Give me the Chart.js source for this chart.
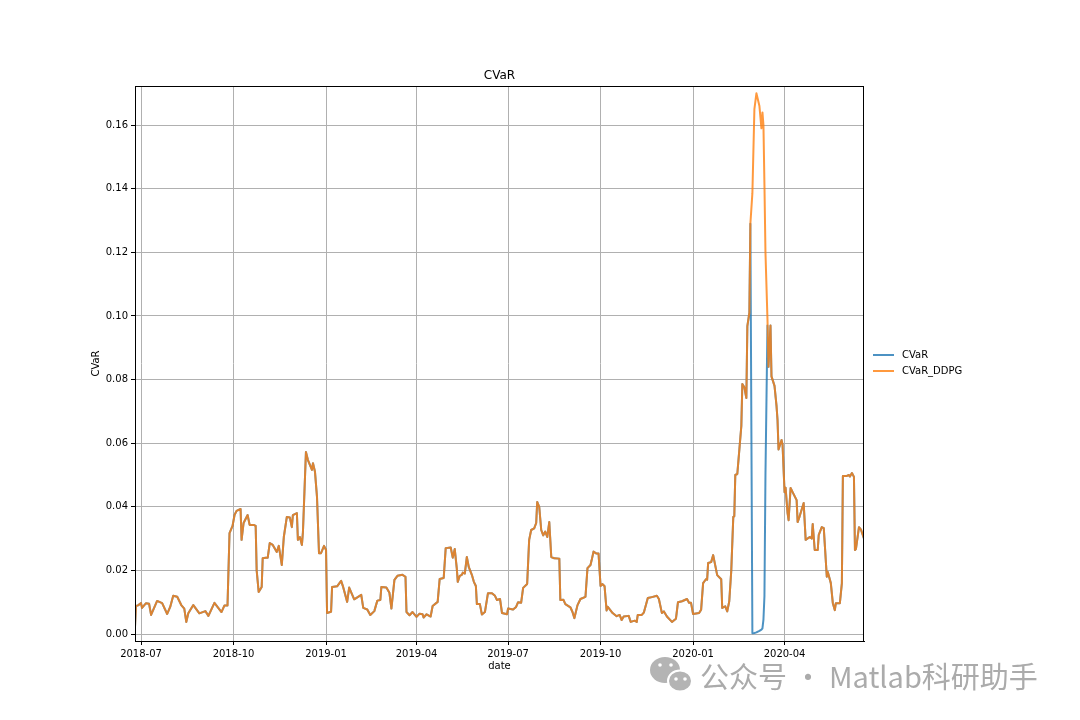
<!DOCTYPE html>
<html>
<head>
<meta charset="utf-8">
<script src="https://cdn.jsdelivr.net/npm/chart.js@4.4.1/dist/chart.umd.min.js"></script>
<style>
  html, body { margin: 0; background: #fff; }
  #wrap { width: 1080px; height: 720px; }
</style>
</head>
<body>
<div id="wrap"><canvas id="chart" width="1080" height="720"></canvas></div>
<script>
// values
const dates = [
  '2018-06-25','2018-06-26','2018-06-28','2018-07-01','2018-07-02','2018-07-06','2018-07-09','2018-07-11','2018-07-17','2018-07-22',
  '2018-07-27','2018-07-30','2018-08-02','2018-08-06','2018-08-10','2018-08-13','2018-08-15','2018-08-17','2018-08-22','2018-08-28',
  '2018-09-03','2018-09-06','2018-09-12','2018-09-19','2018-09-22','2018-09-25','2018-09-27','2018-09-30','2018-10-02','2018-10-04',
  '2018-10-08','2018-10-09','2018-10-11','2018-10-15','2018-10-17','2018-10-21','2018-10-23','2018-10-24','2018-10-26','2018-10-29',
  '2018-10-30','2018-11-02','2018-11-04','2018-11-06','2018-11-09','2018-11-13','2018-11-15','2018-11-18','2018-11-20','2018-11-23',
  '2018-11-26','2018-11-28','2018-11-29','2018-12-03','2018-12-04','2018-12-06','2018-12-08','2018-12-09','2018-12-12','2018-12-14',
  '2018-12-18','2018-12-19','2018-12-21','2018-12-23','2018-12-25','2018-12-27','2018-12-30','2019-01-01','2019-01-02','2019-01-06',
  '2019-01-07','2019-01-12','2019-01-16','2019-01-18','2019-01-22','2019-01-24','2019-01-29','2019-02-05','2019-02-07','2019-02-11',
  '2019-02-14','2019-02-18','2019-02-21','2019-02-24','2019-02-25','2019-03-02','2019-03-05','2019-03-07','2019-03-10','2019-03-13',
  '2019-03-18','2019-03-21','2019-03-22','2019-03-25','2019-03-28','2019-04-01','2019-04-04','2019-04-07','2019-04-08','2019-04-11',
  '2019-04-15','2019-04-17','2019-04-22','2019-04-24','2019-04-28','2019-04-30','2019-05-05','2019-05-07','2019-05-09','2019-05-11',
  '2019-05-12','2019-05-14','2019-05-16','2019-05-17','2019-05-19','2019-05-21','2019-05-23','2019-05-26','2019-05-28','2019-05-30',
  '2019-05-31','2019-06-03','2019-06-05','2019-06-08','2019-06-11','2019-06-15','2019-06-18','2019-06-20','2019-06-23','2019-06-25',
  '2019-06-30','2019-07-01','2019-07-06','2019-07-09','2019-07-11','2019-07-14','2019-07-16','2019-07-20','2019-07-22','2019-07-24',
  '2019-07-27','2019-07-29','2019-07-30','2019-08-01','2019-08-03','2019-08-05','2019-08-07','2019-08-09','2019-08-11','2019-08-13',
  '2019-08-16','2019-08-21','2019-08-22','2019-08-25','2019-08-27','2019-09-01','2019-09-03','2019-09-05','2019-09-08','2019-09-11',
  '2019-09-16','2019-09-18','2019-09-21','2019-09-22','2019-09-24','2019-09-27','2019-09-29','2019-10-01','2019-10-03','2019-10-05',
  '2019-10-07','2019-10-08','2019-10-13','2019-10-17','2019-10-20','2019-10-22','2019-10-24','2019-10-29','2019-10-31','2019-11-04',
  '2019-11-06','2019-11-07','2019-11-11','2019-11-13','2019-11-17','2019-11-21','2019-11-26','2019-11-28','2019-12-01','2019-12-03',
  '2019-12-06','2019-12-11','2019-12-15','2019-12-17','2019-12-21','2019-12-26','2019-12-28','2019-12-30','2020-01-01','2020-01-07',
  '2020-01-09','2020-01-11','2020-01-14','2020-01-15','2020-01-16','2020-01-19','2020-01-21','2020-01-25','2020-01-29','2020-01-30',
  '2020-02-02','2020-02-04','2020-02-06','2020-02-08','2020-02-10','2020-02-11','2020-02-12','2020-02-14','2020-02-16','2020-02-18',
  '2020-02-19','2020-02-21','2020-02-23','2020-02-24','2020-02-26','2020-02-27','2020-02-29','2020-03-02','2020-03-04','2020-03-07',
  '2020-03-09','2020-03-10','2020-03-11','2020-03-12','2020-03-13','2020-03-15','2020-03-16','2020-03-18','2020-03-19','2020-03-22',
  '2020-03-24','2020-03-25','2020-03-26','2020-03-29','2020-03-30','2020-04-01','2020-04-02','2020-04-04','2020-04-05','2020-04-07',
  '2020-04-09','2020-04-13','2020-04-14','2020-04-16','2020-04-20','2020-04-22','2020-04-26','2020-04-28','2020-04-29','2020-05-01',
  '2020-05-04','2020-05-05','2020-05-08','2020-05-10','2020-05-13','2020-05-14','2020-05-17','2020-05-19','2020-05-21','2020-05-22',
  '2020-05-26','2020-05-28','2020-05-29','2020-06-02','2020-06-04','2020-06-05','2020-06-07','2020-06-09','2020-06-10','2020-06-11',
  '2020-06-14','2020-06-16','2020-06-19'
]

const cvarDdpg = [
  0.0022,0.0088,0.0090,0.0097,0.0082,0.0097,0.0095,0.0060,0.0104,0.0097,
  0.0063,0.0085,0.0120,0.0117,0.0091,0.0080,0.0038,0.0065,0.0091,0.0065,
  0.0072,0.0057,0.0098,0.0069,0.0090,0.0090,0.0317,0.0340,0.0374,0.0387,
  0.0393,0.0296,0.0349,0.0374,0.0343,0.0343,0.0340,0.0200,0.0132,0.0148,
  0.0238,0.0240,0.0240,0.0286,0.0280,0.0258,0.0277,0.0217,0.0305,0.0368,
  0.0366,0.0336,0.0374,0.0380,0.0296,0.0305,0.0280,0.0320,0.0572,0.0547,
  0.0516,0.0537,0.0510,0.0431,0.0254,0.0254,0.0277,0.0264,0.0066,0.0070,
  0.0148,0.0150,0.0167,0.0148,0.0101,0.0146,0.0109,0.0123,0.0082,0.0077,
  0.0060,0.0072,0.0105,0.0107,0.0148,0.0146,0.0130,0.0080,0.0170,0.0183,
  0.0186,0.0180,0.0069,0.0059,0.0069,0.0054,0.0064,0.0062,0.0052,0.0062,
  0.0055,0.0088,0.0101,0.0173,0.0176,0.0270,0.0272,0.0240,0.0267,0.0207,
  0.0164,0.0183,0.0186,0.0193,0.0190,0.0242,0.0210,0.0186,0.0164,0.0151,
  0.0094,0.0094,0.0061,0.0069,0.0128,0.0128,0.0120,0.0107,0.0110,0.0066,
  0.0062,0.0080,0.0077,0.0085,0.0100,0.0098,0.0145,0.0157,0.0296,0.0327,
  0.0332,0.0349,0.0415,0.0400,0.0327,0.0310,0.0322,0.0305,0.0352,0.0242,
  0.0238,0.0237,0.0107,0.0108,0.0094,0.0084,0.0070,0.0050,0.0090,0.0110,
  0.0117,0.0207,0.0217,0.0230,0.0259,0.0253,0.0253,0.0151,0.0157,0.0150,
  0.0074,0.0086,0.0066,0.0056,0.0060,0.0044,0.0055,0.0057,0.0038,0.0042,
  0.0038,0.0060,0.0060,0.0067,0.0113,0.0116,0.0120,0.0110,0.0066,0.0071,
  0.0055,0.0038,0.0048,0.0100,0.0103,0.0110,0.0098,0.0098,0.0063,0.0066,
  0.0076,0.0160,0.0173,0.0171,0.0223,0.0226,0.0248,0.0185,0.0172,0.0082,
  0.0087,0.0071,0.0103,0.0200,0.0368,0.0370,0.0500,0.0503,0.0578,0.0654,
  0.0786,0.0776,0.0742,0.0968,0.1010,0.1290,0.1386,0.1650,0.1700,0.1660,
  0.1590,0.1640,0.1600,0.1410,0.1200,0.0990,0.0840,0.0970,0.0810,0.0780,
  0.0717,0.0673,0.0580,0.0610,0.0595,0.0446,0.0460,0.0380,0.0358,0.0459,
  0.0446,0.0421,0.0352,0.0370,0.0412,0.0296,0.0305,0.0300,0.0346,0.0264,
  0.0264,0.0312,0.0336,0.0333,0.0180,0.0195,0.0160,0.0097,0.0075,0.0097,
  0.0097,0.0160,0.0497,0.0497,0.0500,0.0495,0.0506,0.0494,0.0264,0.0268,
  0.0336,0.0328,0.0300
]

// CVaR follows CVaR_DDPG everywhere except in the March 2020 window
const cvarCrashDates = ['2020-02-29','2020-03-02','2020-03-04','2020-03-07','2020-03-09','2020-03-10','2020-03-11','2020-03-12','2020-03-13','2020-03-15']
const cvarCrashValues = [0.0002,0.0003,0.0005,0.0010,0.0014,0.0018,0.0045,0.0120,0.0500,0.0970]

const monthTicks = ['2018-07','2018-10','2019-01','2019-04','2019-07','2019-10','2020-01','2020-04']
const yTicks = [0, 0.02, 0.04, 0.06, 0.08, 0.10, 0.12, 0.14, 0.16]

const seriesNames = ['CVaR', 'CVaR_DDPG']
const seriesColors = ['rgba(31,119,180,0.8)', 'rgba(255,127,14,0.8)']

const base = Date.UTC(2018, 6, 1)
function dayOf (s) {
  const [y, m, d] = s.split('-').map(Number)
  return (Date.UTC(y, m - 1, d || 1) - base) / 86400000
}

const cvar = dates.map((d, i) => {
  const k = cvarCrashDates.indexOf(d)
  return k >= 0 ? cvarCrashValues[k] : cvarDdpg[i]
})

const points = vals => dates.map((d, i) => ({ x: dayOf(d), y: vals[i] }))

const FONT = '"DejaVu Sans", sans-serif'

const decorations = {
  id: 'decorations',
  afterDraw (chart) {
    const { ctx, chartArea: a } = chart
    ctx.save()
    // frame
    ctx.strokeStyle = '#000'
    ctx.lineWidth = 1
    ctx.strokeRect(Math.round(a.left) + 0.5, Math.round(a.top) + 0.5, Math.round(a.right - a.left) - 1, Math.round(a.bottom - a.top))

    ctx.fillStyle = '#000'
    const cx = (a.left + a.right) / 2
    ctx.textAlign = 'center'
    ctx.textBaseline = 'alphabetic'
    ctx.font = '12px ' + FONT
    ctx.fillText('CVaR', cx, 79)
    ctx.font = '10px ' + FONT
    ctx.fillText('date', cx, 669)

    ctx.save()
    ctx.translate(96, (a.top + a.bottom) / 2)
    ctx.rotate(-Math.PI / 2)
    ctx.textBaseline = 'middle'
    ctx.fillText('CVaR', 0, 0)
    ctx.restore()

    // legend
    ctx.textAlign = 'left'
    ctx.textBaseline = 'middle'
    seriesNames.forEach((name, i) => {
      const y = 355 + i * 16
      ctx.strokeStyle = seriesColors[i]
      ctx.lineWidth = 2
      ctx.beginPath()
      ctx.moveTo(873, y)
      ctx.lineTo(894, y)
      ctx.stroke()
      ctx.fillStyle = '#000'
      ctx.fillText(name, 902, y)
    })

    // watermark
    ctx.fillStyle = '#b4b4b4'
    ctx.beginPath()
    ctx.ellipse(665, 670, 15, 13, 0, 0, Math.PI * 2)
    ctx.fill()
    ctx.strokeStyle = '#fff'
    ctx.lineWidth = 2
    ctx.beginPath()
    ctx.ellipse(680, 681, 12, 10.5, 0, 0, Math.PI * 2)
    ctx.fill()
    ctx.stroke()
    ctx.fillStyle = '#fff'
    ;[[660, 665], [671, 665], [676, 679], [685, 679]].forEach(([x, y]) => {
      ctx.beginPath()
      ctx.arc(x, y, 1.8, 0, Math.PI * 2)
      ctx.fill()
    })
    ctx.fillStyle = '#ababab'
    ctx.font = '29px "Noto Sans CJK SC", "Noto Sans", sans-serif'
    ctx.textBaseline = 'middle'
    ctx.fillText('公众号 · Matlab科研助手', 700, 677)
    ctx.restore()
  }
}

new Chart(document.getElementById('chart'), {
  type: 'line',
  data: {
    datasets: [
      { label: seriesNames[0], data: points(cvar), borderColor: seriesColors[0], order: 1 },
      { label: seriesNames[1], data: points(cvarDdpg), borderColor: seriesColors[1], order: 0 }
    ]
  },
  options: {
    responsive: false,
    animation: false,
    devicePixelRatio: 1,
    layout: { padding: { left: 0, right: 216, top: 86, bottom: 0 } },
    elements: {
      point: { radius: 0 },
      line: { borderWidth: 2, tension: 0, borderJoinStyle: 'round', fill: false }
    },
    plugins: {
      legend: { display: false },
      title: { display: false },
      tooltip: { enabled: false }
    },
    scales: {
      x: {
        type: 'linear',
        min: dayOf(dates[0]),
        max: dayOf(dates[dates.length - 1]),
        afterFit (s) { s.height = 79 },
        afterBuildTicks (s) { s.ticks = monthTicks.map(m => ({ value: dayOf(m) })) },
        ticks: {
          autoSkip: false,
          maxRotation: 0,
          padding: 3,
          color: '#000',
          font: { family: FONT, size: 10 },
          callback: (v, i) => monthTicks[i]
        },
        grid: { color: '#b0b0b0', lineWidth: 1, tickColor: '#000', tickLength: 4 },
        border: { color: '#000', width: 1 }
      },
      y: {
        type: 'linear',
        min: -0.0022,
        max: 0.1723,
        afterFit (s) { s.width = 135 },
        afterBuildTicks (s) { s.ticks = yTicks.map(v => ({ value: v })) },
        ticks: {
          padding: 3,
          color: '#000',
          font: { family: FONT, size: 10 },
          callback: v => v.toFixed(2)
        },
        grid: { color: '#b0b0b0', lineWidth: 1, tickColor: '#000', tickLength: 4 },
        border: { color: '#000', width: 1 }
      }
    }
  },
  plugins: [decorations]
})
</script>
</body>
</html>
